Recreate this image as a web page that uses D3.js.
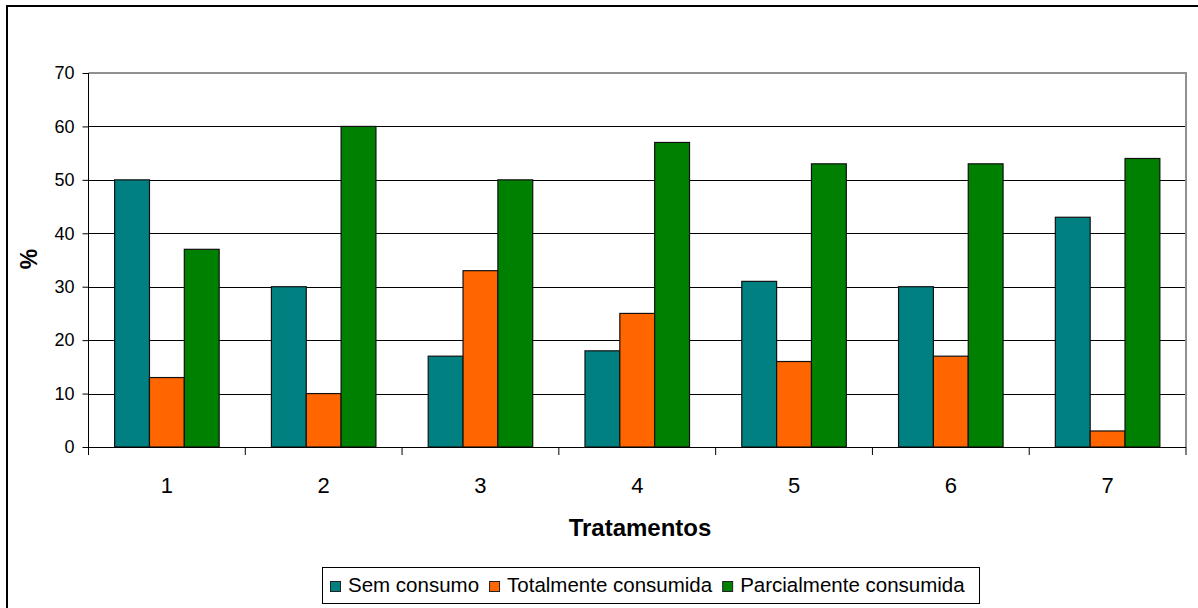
<!DOCTYPE html>
<html>
<head>
<meta charset="utf-8">
<script src="https://cdn.jsdelivr.net/npm/d3@7/dist/d3.min.js"></script>
<style>
  html, body { margin: 0; padding: 0; background: #fff; }
  svg { display: block; font-family: Arial, "Liberation Sans", sans-serif; }
</style>
</head>
<body>
<svg id="chart" width="1198" height="608"></svg>
<script>
// Treatments on the x axis
const categories = ["1", "2", "3", "4", "5", "6", "7"];
// Series names shown in the legend
const seriesNames = ["Sem consumo", "Totalmente consumida", "Parcialmente consumida"];
const seriesColors = ["#008080", "#FF6600", "#008000"];
// Percentages per treatment
const semConsumo = [50, 30, 17, 18, 31, 30, 43];
const totalmenteConsumida = [13, 10, 33, 25, 16, 17, 3];
const parcialmenteConsumida = [37, 60, 50, 57, 53, 53, 54];
// Y-axis ticks
const yTicks = [0, 10, 20, 30, 40, 50, 60, 70];

const seriesValues = [semConsumo, totalmenteConsumida, parcialmenteConsumida];

const svg = d3.select("#chart");

// Outer chart frame
svg.append("rect")
  .attr("x", 7).attr("y", 6)
  .attr("width", 1220).attr("height", 640)
  .attr("fill", "#fff")
  .attr("stroke", "#000").attr("stroke-width", 2);

const plot = { left: 88.5, right: 1186, top: 73, bottom: 447 };

const x0 = d3.scaleBand().domain(categories).range([plot.left, plot.right]).padding(0);
const x1 = d3.scaleBand().domain(d3.range(seriesNames.length))
  .range([0, x0.bandwidth()]).paddingInner(0).paddingOuter(0.75);
const y = d3.scaleLinear().domain([0, 70]).range([plot.bottom, plot.top]);

// Horizontal gridlines
svg.append("g")
  .selectAll("line")
  .data(yTicks.filter(t => t > 0 && t < 70))
  .join("line")
  .attr("x1", plot.left).attr("x2", plot.right)
  .attr("y1", d => Math.round(y(d)) + 0.5).attr("y2", d => Math.round(y(d)) + 0.5)
  .attr("stroke", "#000").attr("stroke-width", 1);

// Plot-area border (top and right edges)
svg.append("path")
  .attr("d", `M${plot.left},${plot.top} H${plot.right} V${plot.bottom}`)
  .attr("fill", "none")
  .attr("stroke", "#909090").attr("stroke-width", 2);

// Bars
const groups = svg.append("g")
  .selectAll("g")
  .data(categories)
  .join("g")
  .attr("transform", d => `translate(${x0(d)},0)`);

groups.selectAll("rect")
  .data((c, i) => seriesValues.map((vals, s) => ({ s, v: vals[i] })))
  .join("rect")
  .attr("x", d => x1(d.s))
  .attr("y", d => y(d.v))
  .attr("width", x1.bandwidth())
  .attr("height", d => y(0) - y(d.v))
  .attr("fill", d => seriesColors[d.s])
  .attr("stroke", "#111").attr("stroke-width", 1.2);

// Y axis
const yAxis = d3.axisLeft(y).tickValues(yTicks).tickSize(6).tickPadding(8);
const gy = svg.append("g")
  .attr("transform", `translate(${plot.left},0)`)
  .call(yAxis);
gy.select(".domain").attr("stroke", "#000").attr("d", `M0,${plot.top}V${plot.bottom}`);
gy.selectAll(".tick line").attr("stroke", "#000");
gy.selectAll(".tick text")
  .attr("font-size", 18)
  .attr("fill", "#000")
  .attr("font-family", "Arial, 'Liberation Sans', sans-serif");

// X axis: ticks at category boundaries, labels centred in each band
const gx = svg.append("g");
gx.append("line")
  .attr("x1", plot.left).attr("x2", plot.right)
  .attr("y1", plot.bottom + 0.5).attr("y2", plot.bottom + 0.5)
  .attr("stroke", "#000").attr("stroke-width", 1);
const boundaries = categories.map(c => x0(c)).concat([x0(categories[categories.length - 1]) + x0.bandwidth()]);
gx.selectAll("line.tk")
  .data(boundaries)
  .join("line")
  .attr("class", "tk")
  .attr("x1", d => d).attr("x2", d => d)
  .attr("y1", plot.bottom).attr("y2", plot.bottom + 8)
  .attr("stroke", "#000").attr("stroke-width", 1);
gx.selectAll("text")
  .data(categories)
  .join("text")
  .attr("x", d => x0(d) + x0.bandwidth() / 2)
  .attr("y", 493)
  .attr("text-anchor", "middle")
  .attr("font-size", 22)
  .attr("fill", "#000")
  .text(d => d);

// Axis titles
svg.append("text")
  .attr("x", 640).attr("y", 536)
  .attr("text-anchor", "middle")
  .attr("font-size", 24).attr("font-weight", "bold")
  .attr("fill", "#000")
  .text("Tratamentos");

svg.append("text")
  .attr("transform", "translate(37,259) rotate(-90)")
  .attr("text-anchor", "middle")
  .attr("font-size", 23).attr("font-weight", "bold")
  .attr("fill", "#000")
  .text("%");

// Legend
const legend = svg.append("g");
legend.append("rect")
  .attr("x", 322.5).attr("y", 567.5)
  .attr("width", 657).attr("height", 36)
  .attr("fill", "#fff")
  .attr("stroke", "#000").attr("stroke-width", 1);

let lx = 330;
seriesNames.forEach((name, i) => {
  legend.append("rect")
    .attr("x", lx + 0.5).attr("y", 581.5)
    .attr("width", 10).attr("height", 10)
    .attr("fill", seriesColors[i])
    .attr("stroke", "#222").attr("stroke-width", 1);
  const t = legend.append("text")
    .attr("x", lx + 18).attr("y", 592)
    .attr("font-size", 20.5)
    .attr("fill", "#000")
    .text(name);
  lx = lx + 18 + t.node().getComputedTextLength() + 10;
});
</script>
</body>
</html>
